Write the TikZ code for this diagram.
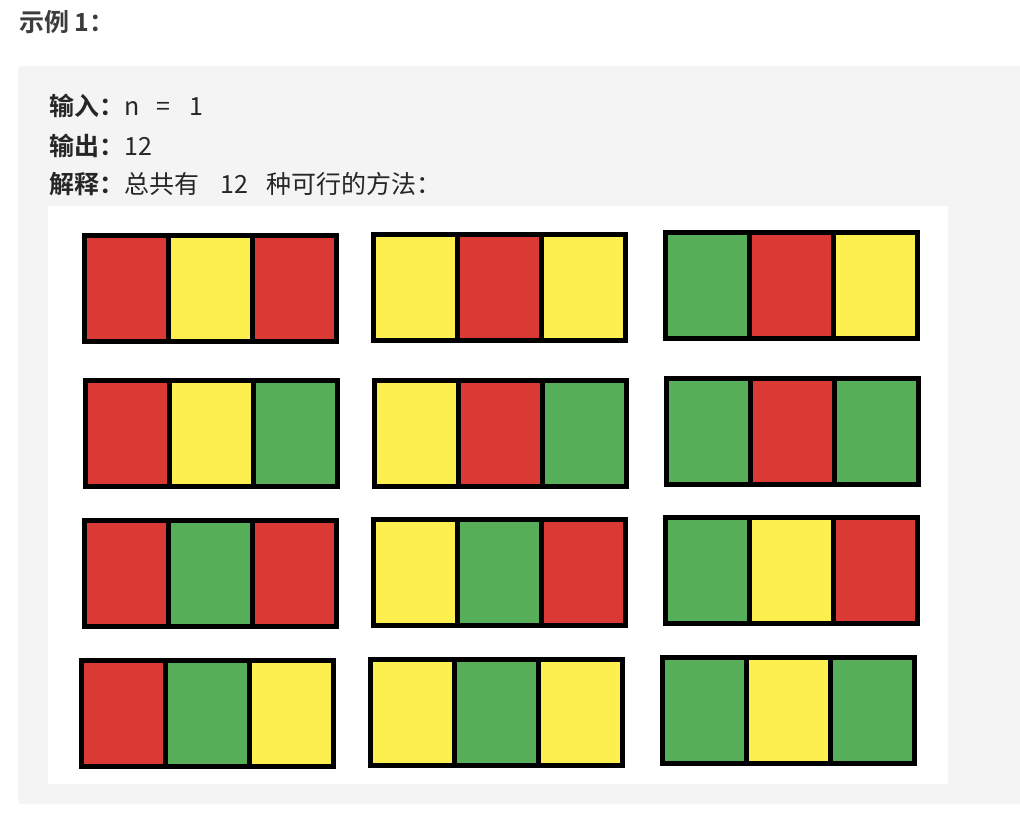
\documentclass[tikz,border=0pt]{standalone}
\usepackage{fontspec}
\setmainfont{Noto Sans CJK SC}[BoldFont={Noto Sans CJK SC Bold}]

\begin{document}
\begin{tikzpicture}[x=1pt,y=-1pt]
 \definecolor{cr}{RGB}{219,58,52}
 \definecolor{cy}{RGB}{253,240,78}
 \definecolor{cg}{RGB}{86,174,88}
 \definecolor{panel}{RGB}{244,244,244}
 \definecolor{ink}{RGB}{38,38,38}
 \tikzset{
   line/.style={anchor=base west,inner sep=0pt,text=ink,
     font=\fontsize{25}{30}\selectfont}
 }
 \useasboundingbox[fill=white] (0,0) rectangle (1020,822);
 \fill[panel,rounded corners=4pt] (18,66) rectangle (1040,804);
 \fill[white] (48,206) rectangle (948,784);
 % texts
 \node[line,text=ink!90!white,font=\fontsize{25}{30}\selectfont\bfseries]
   (title) at (19,31.5) {示例 1：};
 \node[line] (input) at (49,115) {\textbf{输入：}n\hspace{17pt}=\hspace{19pt}1};
 \node[line] (output) at (49,155) {\textbf{输出：}12};
 \node[line] (explain) at (49,193)
   {\textbf{解释：}总共有\hspace{21pt}12\hspace{19pt}种可行的方法：};
 % the twelve colourings
 \foreach \xp/\yp/\ca/\cb/\cc in {
   82/233/cr/cy/cr, 371/232/cy/cr/cy, 663/230/cg/cr/cy,
   83/378/cr/cy/cg, 372/378/cy/cr/cg, 664/376/cg/cr/cg,
   82/518/cr/cg/cr, 371/517/cy/cg/cr, 663/515/cg/cy/cr,
   79/658/cr/cg/cy, 368/657/cy/cg/cy, 660/655/cg/cy/cg} {
   \fill[black] (\xp,\yp) rectangle ++(257,111);
   \foreach \i/\col in {0/\ca,1/\cb,2/\cc} {
     \fill[\col] (\xp+5+84*\i,\yp+5) rectangle ++(79,101);
   }
 }
\end{tikzpicture}
\end{document}
